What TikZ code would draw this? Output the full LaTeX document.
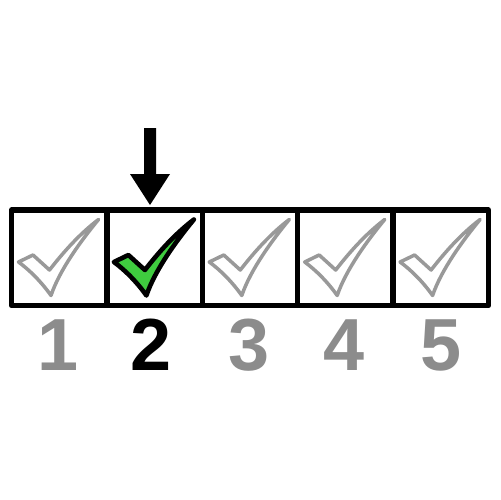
\documentclass[tikz,border=0pt]{standalone}
\usepackage{fontspec}
\setmainfont{Liberation Sans}
\definecolor{chkgray}{HTML}{999999}
\definecolor{numgray}{HTML}{8C8C8C}
\definecolor{chkgreen}{HTML}{3FCC3F}
\begin{document}
\begin{tikzpicture}[x=0.02cm,y=-0.02cm,
  cellbox/.style={draw=black,line width=3.1pt,line join=round,minimum width=1.908cm,minimum height=1.91cm,inner sep=0pt,outer sep=0pt},
  numlabel/.style={font=\fontsize{42pt}{42pt}\selectfont\bfseries,anchor=base,inner sep=0pt},
  chkpath/.pic={
    \path[pic actions,line join=round,line cap=round]
      (7,52) -- (21.5,45) -- (38,60)
      .. controls (52,42) and (68,24) .. (87,9.5)
      .. controls (70,30) and (48,60) .. (39.5,85.5)
      .. controls (30,72) and (18,60) .. (7,52) -- cycle;
  },
  graychk/.style={draw=chkgray,line width=2pt},
  greenchk/.style={draw=black,fill=chkgreen,line width=2.6pt}
]
\useasboundingbox (0,0) rectangle (500,500);
\fill[white] (0,0) rectangle (500,500);
% cells
\foreach \i/\x in {1/59.2,2/154.6,3/250.0,4/345.4,5/440.8}{
  \node[cellbox] (c\i) at (\x,257.75) {};
}
% check marks
\foreach \i/\x in {1/11.5,3/202.3,4/297.7,5/393.1}{
  \pic[graychk] at (\x,210) {chkpath};
}
\pic[greenchk] at (106.9,210) {chkpath};
% numbers
\node[numlabel,text=numgray] (n1) at (58,370) {1};
\node[numlabel,text=black] (n2) at (151,370) {2};
\node[numlabel,text=numgray] (n3) at (249,370) {3};
\node[numlabel,text=numgray] (n4) at (344,370) {4};
\node[numlabel,text=numgray] (n5) at (441,370) {5};
% arrow
\coordinate (atop) at (150,128);
\coordinate (atip) at (150,205);
\fill[black] ([xshift=-0.12cm]atop) -- ([xshift=0.12cm]atop) -- (156,174) -- (170,174) -- (atip) -- (130,174) -- (144,174) -- cycle;
\end{tikzpicture}
\end{document}
